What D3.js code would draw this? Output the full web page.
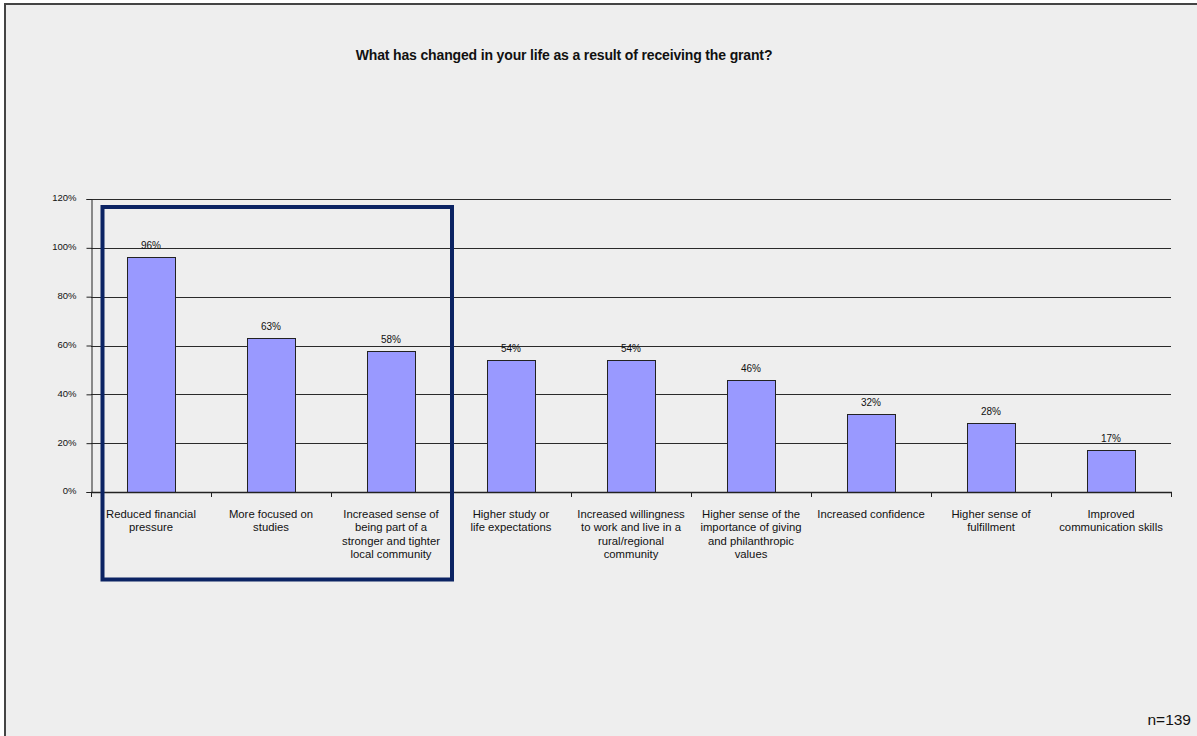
<!DOCTYPE html>
<html><head><meta charset="utf-8">
<script src="https://cdn.jsdelivr.net/npm/d3@7"></script>
<style>
html,body{margin:0;padding:0;background:#fff;}
svg{display:block;}
text{font-family:"Liberation Sans",Arial,sans-serif;fill:#111;}
</style></head>
<body>
<svg id="c" width="1197" height="736"></svg>
<script>
const categories = [
  ["Reduced financial","pressure"],
  ["More focused on","studies"],
  ["Increased sense of","being part of a","stronger and tighter","local community"],
  ["Higher study or","life expectations"],
  ["Increased willingness","to work and live in a","rural/regional","community"],
  ["Higher sense of the","importance of giving","and philanthropic","values"],
  ["Increased confidence"],
  ["Higher sense of","fulfillment"],
  ["Improved","communication skills"]
];
const values = [96.4, 63.2, 57.7, 54, 54, 45.8, 31.8, 28.2, 17.3];
const valueLabels = ["96%","63%","58%","54%","54%","46%","32%","28%","17%"];
const yTicks = [0,20,40,60,80,100,120];
const title = "What has changed in your life as a result of receiving the grant?";
const note = "n=139";
const highlighted = [0,1,2];

const svg = d3.select("#c");
svg.append("rect").attr("x",5).attr("y",4).attr("width",1200).attr("height",740)
  .attr("fill","#eeeeee").attr("stroke","#444").attr("stroke-width",2);

const L=91, R=1171, T=199, B=492;
const x = d3.scaleBand().domain(d3.range(categories.length)).range([L,R]).paddingInner(0.6).paddingOuter(0.3);
const xb = d3.scaleBand().domain(d3.range(categories.length)).range([L,R]);
const y = d3.scaleLinear().domain([0,120]).range([B,T]);

// gridlines
svg.append("g").selectAll("line").data(yTicks.filter(d=>d>0)).join("line")
  .attr("x1",L).attr("x2",R).attr("y1",d=>Math.round(y(d))+0.5).attr("y2",d=>Math.round(y(d))+0.5)
  .attr("stroke","#2a2a2a").attr("stroke-width",1);

// bars
svg.append("g").selectAll("rect").data(values).join("rect")
  .attr("x",(d,i)=>Math.round(x(i))+0.5).attr("width",Math.round(x.bandwidth()))
  .attr("y",d=>Math.round(y(d))+0.5).attr("height",d=>B-Math.round(y(d)))
  .attr("fill","#9999ff").attr("stroke","#222").attr("stroke-width",1);

// value labels
svg.append("g").selectAll("text").data(values).join("text")
  .attr("x",(d,i)=>x(i)+x.bandwidth()/2).attr("y",d=>y(d)-8)
  .attr("text-anchor","middle").attr("font-size","10px").attr("fill","#222")
  .text((d,i)=>valueLabels[i]);

// y axis
const yAxis = d3.axisLeft(y).tickValues(yTicks).tickFormat(d=>d+"%").tickSize(5).tickPadding(10);
const ga = svg.append("g").attr("transform",`translate(${L+0.5},0)`).call(yAxis);
ga.select(".domain").attr("stroke","#222");
ga.selectAll(".tick line").attr("stroke","#222");
ga.selectAll(".tick text").attr("font-size","9.5px").attr("font-family","Liberation Sans, Arial, sans-serif").attr("fill","#222").attr("dy","0.2em");

// x axis
svg.append("line").attr("x1",L).attr("x2",R+1).attr("y1",B+0.5).attr("y2",B+0.5).attr("stroke","#222").attr("stroke-width",1.5);
svg.append("g").selectAll("line").data(d3.range(categories.length+1)).join("line")
  .attr("x1",i=>Math.round(L+i*xb.bandwidth())+0.5).attr("x2",i=>Math.round(L+i*xb.bandwidth())+0.5)
  .attr("y1",B).attr("y2",B+5).attr("stroke","#222");

// category labels
const cg = svg.append("g");
categories.forEach((lines,i)=>{
  const t = cg.append("text").attr("text-anchor","middle").attr("font-size","11.3px").attr("fill","#222");
  lines.forEach((ln,j)=>{
    t.append("tspan").attr("x",xb(i)+xb.bandwidth()/2).attr("y",518+j*13.3).text(ln);
  });
});

// highlight box
const hx0 = xb(highlighted[0]) + 11.5, hx1 = xb(highlighted[highlighted.length-1]) + xb.bandwidth() + 1;
svg.append("rect").attr("x",hx0).attr("y",207).attr("width",hx1-hx0).attr("height",372.5)
  .attr("fill","none").attr("stroke","#0b2363").attr("stroke-width",4);

// title
svg.append("text").attr("x",564).attr("y",60).attr("text-anchor","middle")
  .attr("font-size","14px").attr("font-weight","bold").attr("letter-spacing","-0.15px").attr("fill","#000").text(title);

// note
svg.append("text").attr("x",1191).attr("y",725).attr("text-anchor","end")
  .attr("font-size","15.5px").attr("fill","#222").text(note);
</script>
</body></html>
